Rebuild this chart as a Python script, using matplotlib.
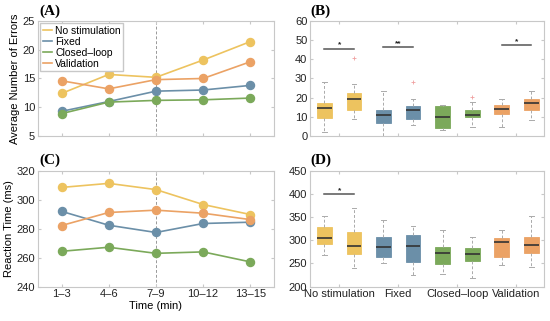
import matplotlib
matplotlib.use("Agg")
import matplotlib.pyplot as plt
from matplotlib.lines import Line2D

plt.rcParams['font.family'] = ['Liberation Sans', 'DejaVu Sans']

# ---- data -------------------------------------------------------------
time_labels = ["1–3", "4–6", "7–9", "10–12", "13–15"]
series_names = ["No stimulation", "Fixed", "Closed–loop", "Validation"]
colors = ["#EDC35F", "#6B8FA8", "#7BA95A", "#EBA265"]

errors_nostim = [12.4, 15.7, 15.2, 18.2, 21.4]
errors_fixed = [9.3, 11.0, 12.8, 13.0, 13.8]
errors_closed = [8.9, 10.9, 11.2, 11.3, 11.6]
errors_valid = [14.6, 13.2, 14.8, 15.0, 17.9]

rt_nostim = [308.5, 311.3, 307.0, 296.7, 289.8]
rt_fixed = [292.0, 282.4, 277.4, 283.6, 284.5]
rt_closed = [264.4, 267.2, 263.0, 264.0, 257.1]
rt_valid = [282.2, 291.2, 292.8, 290.7, 286.3]

group_labels = ["No stimulation", "Fixed", "Closed–loop", "Validation"]
# box summary stats per box: (low whisker, q1, median, q3, high whisker)
err_low = [2.1, 9.0, 0.0, 5.9, 3.0, 5.0, 5.0, 8.2]
err_q1 = [9.4, 13.7, 6.6, 9.0, 4.0, 9.9, 11.6, 13.5]
err_med = [14.8, 19.1, 10.8, 13.4, 10.1, 11.1, 14.2, 17.4]
err_q3 = [17.2, 22.6, 13.5, 15.5, 15.5, 13.7, 16.0, 19.1]
err_high = [28.1, 27.3, 23.3, 19.1, 16.0, 17.5, 19.1, 23.3]
err_fliers = [[], [40.8], [], [28.0], [], [20.1], [], []]

rt_low = [269.3, 240.7, 250.0, 225.0, 227.1, 218.6, 245.7, 241.4]
rt_q1 = [291.4, 271.4, 262.9, 253.6, 247.9, 255.7, 265.0, 272.9]
rt_med = [305.7, 287.1, 285.7, 287.1, 272.1, 270.7, 295.7, 289.3]
rt_q3 = [327.9, 318.6, 307.9, 310.7, 286.4, 282.9, 305.7, 306.4]
rt_high = [352.9, 370.7, 343.6, 330.7, 322.0, 307.9, 322.0, 352.9]
rt_fliers = [[], [], [], [], [], [], [], []]

# significance: (box a, box b, height, label)
err_sig = [(1, 2, 45.5, "*"), (3, 4, 46.5, "**"), (7, 8, 47.4, "*")]
rt_sig = [(1, 2, 400, "*")]

# ---- figure -----------------------------------------------------------
fig = plt.figure(figsize=(5.5, 3.21), dpi=100)
axA = fig.add_axes([0.069, 0.576, 0.429, 0.359])
axB = fig.add_axes([0.564, 0.576, 0.425, 0.359])
axC = fig.add_axes([0.069, 0.107, 0.429, 0.361])
axD = fig.add_axes([0.564, 0.107, 0.425, 0.361])

grey = "#C8C8C8"


def style(ax):
    for s in ax.spines.values():
        s.set_color(grey)
        s.set_linewidth(0.8)
    ax.tick_params(direction="in", length=2.5, color=grey, labelsize=8,
                   labelcolor="#222222", top=True, right=True, pad=2)


x = [1, 2, 3, 4, 5]
err_series = [errors_nostim, errors_fixed, errors_closed, errors_valid]
rt_series = [rt_nostim, rt_fixed, rt_closed, rt_valid]

for ax, data in [(axA, err_series), (axC, rt_series)]:
    style(ax)
    ax.axvline(3, color="#999999", ls=(0, (3, 2)), lw=0.7, zorder=0)
    for vals, c in zip(data, colors):
        ax.plot(x, vals, color=c, lw=1.2, marker="o", ms=5.8, zorder=3)
    ax.set_xlim(0.5, 5.5)
    ax.set_xticks(x)

axA.set_ylim(5, 25)
axA.set_yticks([5, 10, 15, 20, 25])
axA.set_xticklabels([])
axA.set_ylabel("Average Number of Errors", fontsize=8, labelpad=2)
handles = [Line2D([], [], color=c, lw=1.2) for c in colors]
axA.legend(handles, series_names, loc="upper left", fontsize=7.5,
           handlelength=0.9, handletextpad=0.3, borderpad=0.25,
           labelspacing=0.1, borderaxespad=0.2, fancybox=False,
           edgecolor=grey, framealpha=1)

axC.set_ylim(240, 320)
axC.set_yticks([240, 260, 280, 300, 320])
axC.set_xticklabels(time_labels)
axC.set_xlabel("Time (min)", fontsize=8, labelpad=1)
axC.set_ylabel("Reaction Time (ms)", fontsize=8, labelpad=2)


def boxes(ax, low, q1, med, q3, high, fliers, sig):
    style(ax)
    stats = []
    for i in range(len(med)):
        stats.append(dict(whislo=low[i], q1=q1[i], med=med[i], q3=q3[i],
                          whishi=high[i], fliers=fliers[i]))
    pos = list(range(1, len(med) + 1))
    bp = ax.bxp(stats, positions=pos, widths=0.5, patch_artist=True,
                capwidths=0.16, manage_ticks=False,
                whiskerprops=dict(color="#AAAAAA", ls=(0, (3, 2)), lw=0.7),
                capprops=dict(color="#AAAAAA", lw=0.7),
                medianprops=dict(color="#333333", lw=1.2),
                flierprops=dict(marker="+", markeredgecolor="#F0A0A0",
                                markersize=3, markeredgewidth=0.6))
    for i, b in enumerate(bp["boxes"]):
        c = colors[i // 2]
        b.set_facecolor(c)
        b.set_edgecolor(c)
        b.set_linewidth(0.6)
    for a, b, h, lab in sig:
        ax.plot([a, b], [h, h], color="#555555", lw=1.1)
        ax.text((a + b) / 2, h, lab, ha="center", va="bottom", fontsize=6,
                fontweight="bold", color="#222222")
    ax.set_xlim(0.52, 8.43)
    ax.set_xticks([1.5, 3.5, 5.5, 7.5])


boxes(axB, err_low, err_q1, err_med, err_q3, err_high, err_fliers, err_sig)
axB.set_ylim(0, 60)
axB.set_yticks(range(0, 61, 10))
axB.set_xticklabels([])

boxes(axD, rt_low, rt_q1, rt_med, rt_q3, rt_high, rt_fliers, rt_sig)
axD.set_ylim(200, 450)
axD.set_yticks(range(200, 451, 50))
axD.set_xticklabels(group_labels)

lab_kw = dict(fontsize=11, fontweight="bold", family="Liberation Serif",
              va="center", ha="left")
fig.text(0.072, 1 - 11 / 321, "(A)", **lab_kw)
fig.text(0.565, 1 - 11 / 321, "(B)", **lab_kw)
fig.text(0.072, 1 - 160 / 321, "(C)", **lab_kw)
fig.text(0.565, 1 - 160 / 321, "(D)", **lab_kw)

fig.savefig("out.png", dpi=100)
